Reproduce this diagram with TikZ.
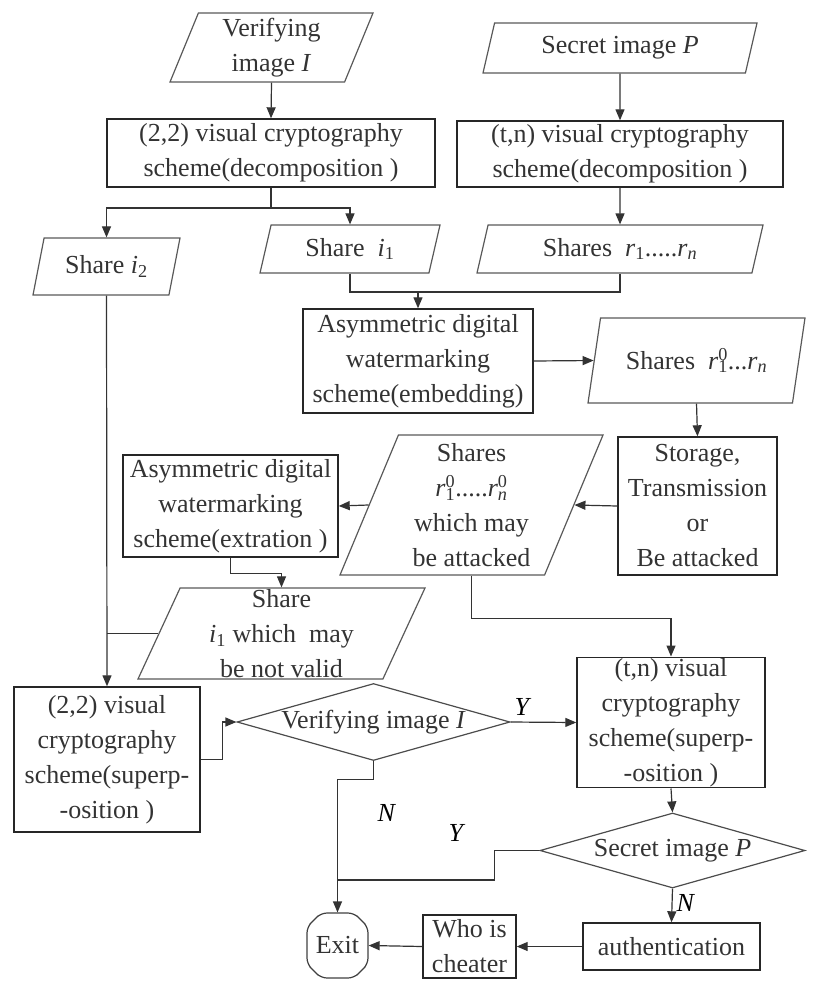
\documentclass[tikz,border=0pt]{standalone}
\usepackage{fontspec}
\setmainfont{Liberation Serif}
\usetikzlibrary{arrows.meta, shapes.geometric, shapes.misc}

\newcommand{\shv}[2]{\textit{#1}\textsubscript{#2}}
\newcommand{\shz}[2]{\textit{#1}\rlap{\textsuperscript{0}}\textsubscript{#2}}

\tikzset{
  box/.style={draw=black!85, line width=1.4pt, rectangle, align=center, inner sep=1pt, text=black!80},
  para/.style={draw=black!65, line width=1.2pt, trapezium, trapezium left angle=65, trapezium right angle=115,
    trapezium stretches body, align=center, inner xsep=0pt, inner ysep=1pt, text=black!80},
  decide/.style={draw=black!70, line width=1.2pt, diamond, inner sep=0pt, text=black!80},
  link/.style={line width=1.2pt, draw=black!80},
  >={Triangle[length=11pt,width=9pt]},
}

\begin{document}
\begin{tikzpicture}[x=1pt, y=-1pt, font=\fontsize{26}{35}\selectfont]
    \useasboundingbox (0,0) rectangle (818,991);

    % Draw nodes
    \node[para, minimum width=203pt, minimum height=69pt] (vimg) at (271.5,47.5) {Verifying\\ image \textit{I}};
    \node[box, minimum width=328pt, minimum height=68pt] (vdec) at (271,153) {(2,2) visual cryptography\\ scheme(decomposition )};
    \node[para, minimum width=274pt, minimum height=50pt] (simg) at (620,48) {Secret image \textit{P}};
    \node[box, minimum width=326pt, minimum height=66pt] (tdec) at (620,154) {(t,n) visual cryptography\\ scheme(decomposition )};
    \node[para, minimum width=147pt, minimum height=57pt] (sh2) at (106.5,266.5) {Share \shv{i}{2}};
    \node[para, minimum width=180pt, minimum height=48pt] (sh1) at (350,249) {Share~ \shv{i}{1}};
    \node[para, minimum width=286pt, minimum height=48pt] (shr) at (620,249) {Shares~ \shv{r}{1}.....\shv{r}{\textit{n}}};
    \node[box, minimum width=230pt, minimum height=104pt] (emb) at (418,361) {Asymmetric digital\\ watermarking\\ scheme(embedding)};
    \node[para, minimum width=217pt, minimum height=85pt] (shz) at (696.5,360.5) {Shares~ \shz{r}{1}...\shv{r}{\textit{n}}};
    \node[box, minimum width=159pt, minimum height=138pt] (store) at (697.5,506) {Storage,\\ Transmission\\ or\\ Be attacked};
    \node[para, minimum width=263pt, minimum height=140pt] (att) at (471.5,505) {Shares\\ \shz{r}{1}.....\shz{r}{\textit{n}}\\ which may\\ be attacked};
    \node[box, minimum width=215pt, minimum height=102pt] (ext) at (230.5,506) {Asymmetric digital\\ watermarking\\ scheme(extration )};
    \node[para, minimum width=287pt, minimum height=91pt] (nval) at (281.5,633.5) {Share\\ \shv{i}{1} which~ may\\ be not valid};
    \node[box, minimum width=186pt, minimum height=145pt] (vsup) at (107,759.5) {(2,2) visual\\ cryptography\\ scheme(superp-\\ -osition )};
    \node[decide, aspect=3.55, minimum width=273pt, minimum height=77pt] (vchk) at (373.5,722) {Verifying image \textit{I}};
    \node[box, minimum width=188pt, minimum height=129pt] (tsup) at (671,722.5) {(t,n) visual\\ cryptography\\ scheme(superp-\\ -osition )};
    \node[decide, aspect=3.53, minimum width=265pt, minimum height=75pt] (schk) at (672.5,850.5) {Secret image \textit{P}};
    \node[box, minimum width=177pt, minimum height=47pt] (auth) at (671.5,946.5) {authentication};
    \node[box, minimum width=93pt, minimum height=63pt] (who) at (469.5,946.5) {Who is\\ cheater};
    \node[draw=black!75, line width=1.2pt, chamfered rectangle, chamfered rectangle xsep=7pt, chamfered rectangle ysep=7pt,
      rounded corners=6pt, inner sep=0pt, minimum width=61pt, minimum height=65pt, text=black!80] (exit) at (337.5,945.5) {Exit};

    % Branch labels
    \node (yes1) at (523,707) {\textit{Y}};
    \node (no1) at (387,813) {\textit{N}};
    \node (yes2) at (457,833) {\textit{Y}};
    \node (no2) at (686,903) {\textit{N}};

    % Draw arrows
    \coordinate (split) at (271,208);
    \coordinate (merge) at (418,292);
    \coordinate (join) at (338,880);

    \draw[link, ->] (vimg.south) -- (vdec.north);
    \draw[link] (vdec.south) -- (split);
    \draw[link, ->] (split) -| (sh2.north);
    \draw[link, ->] (split) -| (sh1.north);
    \draw[link, ->] (simg.south) -- (tdec.north);
    \draw[link, ->] (tdec.south) -- (shr.north);
    \draw[link] (sh1.south) |- (merge) -| (shr.south);
    \draw[link, ->] (merge) -- (emb.north);
    \draw[link, ->] (emb.east) -- (shz.west);
    \draw[link, ->] (shz.south) -- (store.north);
    \draw[link, ->] (store.west) -- (att.east);
    \draw[link, ->] (att.west) -- (ext.east);
    \draw[link, ->] (ext.south) -- ++(0,16) -| (nval.north);
    \draw[link, ->] (sh2.south) -- (vsup.north);
    \draw[link] (nval.west) -- (nval.west -| sh2.south);
    \draw[link, ->] (vsup.east) -- ++(22,0) |- (vchk.west);
    \draw[link, ->] (vchk.east) -- (tsup.west);
    \draw[link, ->] (att.south) -- ++(0,43) -| (tsup.north);
    \draw[link, ->] (vchk.south) -- ++(0,18) -| (exit.north);
    \draw[link, ->] (tsup.south) -- (schk.north);
    \draw[link] (schk.west) -- ++(-45,0) |- (join);
    \draw[link, ->] (schk.south) -- (auth.north);
    \draw[link, ->] (auth.west) -- (who.east);
    \draw[link, ->] (who.west) -- (exit.east);

\end{tikzpicture}
\end{document}
